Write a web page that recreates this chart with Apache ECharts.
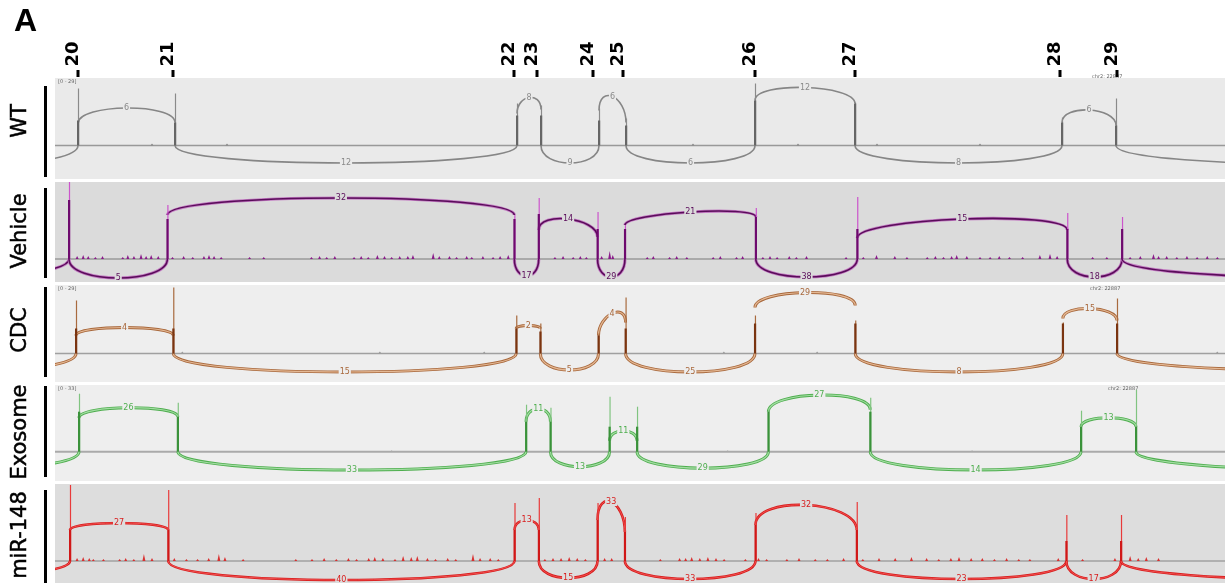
<!DOCTYPE html>
<html><head><meta charset="utf-8">
<script src="https://cdn.jsdelivr.net/npm/echarts@6/dist/echarts.min.js"></script>
<style>html,body{margin:0;padding:0;background:#fff}#c{width:1225px;height:583px}</style>
</head><body><div id="c"></div>
<script>
// ---------- DATA ----------
const exonNames = ['20','21','22','23','24','25','26','27','28','29'];
// genomic position (arbitrary units) of exons 19..30 (19 and 30 lie outside the view)
const exonPos = [-200, 23, 120, 462, 486, 544, 571, 700, 800, 1007, 1061, 1500];
const exonTickPos = [23, 118, 459, 482, 538, 568, 700, 800, 1005, 1062];
const sampleNames = ['WT', 'Vehicle', 'CDC', 'Exosome', 'miR-148'];

// coverage at each exon (20..29): spike top and dense body
const peakWT = [57, 52, 42, 40, 37, 27, 62, 43, 28, 47];
const bodyWT = [25, 23, 30, 30, 25, 20, 45, 42, 23, 20];
const peakVehicle = [80, 54, 44, 61, 47, 34, 51, 62, 46, 42];
const bodyVehicle = [59, 40, 40, 45, 30, 30, 42, 30, 30, 30];
const peakCDC = [53, 66, 38, 30, 20, 56, 38, 33, 31, 55];
const bodyCDC = [25, 25, 25, 22, 18, 25, 30, 30, 30, 30];
const peakExosome = [58, 49, 47, 44, 55, 45, 42, 54, 41, 62];
const bodyExosome = [40, 35, 30, 30, 25, 25, 40, 40, 25, 25];
const peakMiR = [76, 71, 58, 63, 58, 44, 48, 59, 46, 46];
const bodyMiR = [31, 31, 31, 31, 41, 29, 36, 31, 20, 20];

// junctions: [fromExon, toExon, reads, startHeight, apexHeight, endHeight]
const juncWT = [
  [19, 20, '', 0, -20, 0], [20, 21, 6, 22, 37.5, 23], [21, 22, 12, 0, -17.5, 0],
  [22, 23, 8, 32, 48, 36], [23, 24, 9, 0, -17.5, 0], [24, 25, 6, 35, 49, 23],
  [25, 26, 6, 0, -17.5, 0], [26, 27, 12, 45, 58, 42], [27, 28, 8, 0, -17.5, 0],
  [28, 29, 6, 23, 35.5, 20], [29, 30, '', 0, -19, 0]
];
const juncVehicle = [
  [19, 20, '', 0, -18, 0], [20, 21, 5, 0, -19, 0], [21, 22, 32, 44, 61, 44],
  [22, 23, 17, 0, -17, 0], [23, 24, 14, 29, 40, 22], [24, 25, 29, 0, -18, 0],
  [25, 26, 21, 34, 47, 42], [26, 27, 38, 0, -18, 0], [27, 28, 15, 21, 40, 29],
  [28, 29, 18, 0, -18, 0], [29, 30, '', 0, -19, 0]
];
const juncCDC = [
  [19, 20, '', 0, -18, 0], [20, 21, 4, 18, 26, 18], [21, 22, 15, 0, -18.5, 0],
  [22, 23, 2, 25, 28, 25], [23, 24, 5, 0, -16.5, 0], [24, 25, 4, 18, 40, 31],
  [25, 26, 25, 0, -18.5, 0], [26, 27, 29, 46, 61, 48], [27, 28, 8, 0, -18.5, 0],
  [28, 29, 15, 35, 45, 33], [29, 30, '', 0, -17.5, 0]
];
const juncExosome = [
  [19, 20, '', 0, -17.4, 0], [20, 21, 26, 34, 44, 35], [21, 22, 33, 0, -18.3, 0],
  [22, 23, 11, 30, 43, 30], [23, 24, 13, 0, -15, 0], [24, 25, 11, 11, 21, 11],
  [25, 26, 29, 0, -16.5, 0], [26, 27, 27, 40, 56.7, 42], [27, 28, 14, 0, -18.3, 0],
  [28, 29, 13, 25, 34, 25], [29, 30, '', 0, -18.6, 0]
];
const juncMiR = [
  [19, 20, '', 0, -15, 0], [20, 21, 27, 31, 38, 31], [21, 22, 40, 0, -19, 0],
  [22, 23, 13, 31, 41, 31], [23, 24, 15, 0, -17, 0], [24, 25, 33, 41, 59, 29],
  [25, 26, 33, 0, -18, 0], [26, 27, 32, 36, 56, 31], [27, 28, 23, 0, -18, 0],
  [28, 29, 17, 0, -18, 0], [29, 30, '', 0, -19, 0]
];

// small intronic coverage bumps: [position, height]
const bumpsWT = [[97, 2], [172, 2], [638, 2], [743, 2], [822, 2], [925, 2]];
const bumpsCDC = [[129, 2], [326, 2], [430, 2], [669, 2], [762, 2], [1161, 2]];
const bumpsExosome = [[330, 1.5], [660, 1.5], [900, 1.5]];
const bumpsVehicle = [
  [31, 3], [37, 4], [42, 3], [49, 2], [56, 3], [76, 2], [81, 4], [87, 3], [94, 5], [99, 3], [104, 4], [111, 3],
  [125, 2], [136, 3], [145, 2], [156, 3], [161, 4], [166, 3], [173, 2], [201, 2], [215, 2], [262, 2], [270, 3],
  [277, 2], [285, 3], [304, 2], [311, 3], [318, 2], [327, 4], [334, 3], [341, 2], [349, 3], [357, 3], [362, 4],
  [382, 6], [388, 3], [398, 3], [405, 2], [415, 3], [420, 2], [431, 3], [441, 2], [448, 3], [456, 4],
  [502, 2], [510, 3], [520, 2], [527, 3], [533, 2], [548, 3], [556, 8], [559, 4],
  [593, 2], [599, 3], [615, 2], [622, 3], [632, 2], [658, 2], [665, 3], [681, 2], [687, 3],
  [707, 2], [714, 3], [721, 2], [733, 3], [740, 2], [750, 3], [789, 2],
  [806, 2], [819, 4], [837, 3], [849, 2], [869, 2], [877, 3], [885, 2], [893, 3], [898, 4], [908, 3],
  [921, 2], [931, 2], [940, 3], [950, 2], [963, 2], [980, 4], [990, 5], [997, 3],
  [1032, 2], [1046, 2], [1069, 2], [1079, 3], [1092, 5], [1097, 3], [1105, 3], [1115, 2], [1125, 3],
  [1135, 2], [1145, 3], [1155, 2]
];
const bumpsMiR = [
  [30, 3], [36, 4], [42, 3], [46, 2], [56, 2], [72, 2], [78, 3], [86, 2], [96, 7], [104, 3],
  [126, 3], [138, 2], [149, 2], [160, 3], [170, 7], [176, 4], [194, 2], [246, 2], [262, 2], [274, 3],
  [286, 2], [298, 3], [306, 2], [318, 3], [324, 4], [332, 3], [344, 2], [352, 5], [360, 4], [366, 5],
  [376, 3], [384, 2], [396, 3], [404, 2], [421, 7], [428, 3], [438, 3], [446, 2],
  [492, 2], [500, 3], [508, 3], [516, 4], [524, 3], [532, 2], [551, 3], [558, 3],
  [606, 2], [625, 3], [631, 3], [637, 4], [645, 3], [653, 4], [661, 3], [669, 2], [690, 2],
  [703, 3], [711, 2], [731, 2], [743, 3], [759, 2], [771, 2], [787, 3],
  [806, 2], [822, 3], [838, 3], [854, 4], [869, 3], [881, 2], [893, 3], [901, 4], [913, 3], [924, 3],
  [936, 2], [948, 3], [960, 2], [971, 2], [999, 3], [1023, 2], [1055, 3],
  [1070, 5], [1078, 3], [1086, 4], [1098, 3]
];

// ---------- LAYOUT / STYLE ----------
const panelTop = [78, 182, 285, 385, 484];
const panelBottom = [179, 282, 382, 481, 583];
const panelBase = [145.5, 259, 353.5, 451.7, 561];
const panelXRange = [[0, 1170], [9.2, 1162.5], [2.06, 1168.7], [-0.57, 1148.4], [8.19, 1163.7]];
const styles = [
  {bg: '#eaeaea', arc: '#868686', arcW: 1.6, inner: null, label: '#8a8a8a', line: '#8a8a8a', body: '#666666', bump: '#888', base: '#999999'},
  {bg: '#dbdbdb', arc: '#c27ac2', arcW: 3.2, inner: '#5a0c5a', innerW: 1.6, label: '#5a0c5a', line: '#cc55cc', body: '#6e0a6e', bump: '#8a1a8a', base: '#9a9a9a'},
  {bg: '#eeeeee', arc: '#a8683c', arcW: 3, inner: '#e4b894', innerW: 1.2, label: '#a8683c', line: '#a86a3e', body: '#7a3410', bump: '#999', base: '#a0a0a0'},
  {bg: '#eeeeee', arc: '#4fae4f', arcW: 3, inner: '#a2dca2', innerW: 1.2, label: '#4fae4f', line: '#80c480', body: '#3a923a', bump: '#aaa', base: '#aaaaaa'},
  {bg: '#dddddd', arc: '#d81c1c', arcW: 2.6, inner: '#f05050', innerW: 1, label: '#d81c1c', line: '#e83a3a', body: '#d01818', bump: '#d83030', base: '#a0a0a0'}
];
const panelData = [
  {peak: peakWT, body: bodyWT, junc: juncWT, bumps: bumpsWT},
  {peak: peakVehicle, body: bodyVehicle, junc: juncVehicle, bumps: bumpsVehicle},
  {peak: peakCDC, body: bodyCDC, junc: juncCDC, bumps: bumpsCDC},
  {peak: peakExosome, body: bodyExosome, junc: juncExosome, bumps: bumpsExosome},
  {peak: peakMiR, body: bodyMiR, junc: juncMiR, bumps: bumpsMiR}
];
const FONT = '"DejaVu Sans", sans-serif';

const grids = [], xAxes = [], yAxes = [], series = [];

panelData.forEach((pd, p) => {
  const st = styles[p];
  grids.push({left: 55, right: 0, top: panelTop[p], height: panelBottom[p] - panelTop[p],
    show: true, backgroundColor: st.bg, borderWidth: 0});
  xAxes.push({type: 'value', gridIndex: p, min: panelXRange[p][0], max: panelXRange[p][1], show: false});
  yAxes.push({type: 'value', gridIndex: p, min: -(panelBottom[p] - panelBase[p]), max: panelBase[p] - panelTop[p], show: false});

  // baseline
  series.push({type: 'line', xAxisIndex: p, yAxisIndex: p, symbol: 'none', silent: true, z: 1,
    data: [[panelXRange[p][0], 0], [panelXRange[p][1], 0]],
    lineStyle: {color: st.base, width: p === 3 ? 2 : 1.3}});

  // bumps
  series.push({type: 'custom', xAxisIndex: p, yAxisIndex: p, clip: true, silent: true, z: 2,
    data: pd.bumps,
    renderItem: (params, api) => {
      const b = pd.bumps[params.dataIndex];
      const a = api.coord([b[0], 0]), t = api.coord([b[0], b[1]]);
      return {type: 'polygon', shape: {points: [[a[0] - 1.5, a[1]], [a[0], t[1]], [a[0] + 1.5, a[1]]]},
        style: {fill: st.bump}};
    }});

  // junction arcs
  series.push({type: 'custom', xAxisIndex: p, yAxisIndex: p, clip: true, silent: true, z: 3,
    data: pd.junc.map(j => [exonPos[j[0] - 19], j[4]]),
    renderItem: (params, api) => {
      const j = pd.junc[params.dataIndex];
      const xa = exonPos[j[0] - 19], xb = exonPos[j[1] - 19];
      const y0 = j[3], ye = j[4], y3 = j[5];
      const d = (ye - (y0 + y3) / 2) / 0.75;
      const P0 = api.coord([xa, y0]), P1 = api.coord([xa, y0 + d]);
      const P2 = api.coord([xb, y3 + d]), P3 = api.coord([xb, y3]);
      const shape = {x1: P0[0], y1: P0[1], cpx1: P1[0], cpy1: P1[1], cpx2: P2[0], cpy2: P2[1], x2: P3[0], y2: P3[1]};
      const ch = [{type: 'bezierCurve', shape, style: {stroke: st.arc, lineWidth: st.arcW, fill: 'none'}}];
      if (st.inner) ch.push({type: 'bezierCurve', shape, style: {stroke: st.inner, lineWidth: st.innerW, fill: 'none'}});
      if (j[2] !== '') {
        const M = api.coord([(xa + xb) / 2, ye]);
        ch.push({type: 'text', x: M[0], y: M[1], z2: 10, style: {text: String(j[2]), font: '8px ' + FONT,
          fill: st.label, align: 'center', verticalAlign: 'middle', backgroundColor: st.bg, padding: [0, 1]}});
      }
      return {type: 'group', children: ch};
    }});

  // exon coverage spikes
  series.push({type: 'custom', xAxisIndex: p, yAxisIndex: p, clip: true, silent: true, z: 4,
    data: pd.peak.map((v, i) => [exonPos[i + 1], v]),
    renderItem: (params, api) => {
      const i = params.dataIndex, x = exonPos[i + 1];
      const b = api.coord([x, 0]), t = api.coord([x, pd.peak[i]]), m = api.coord([x, pd.body[i]]);
      return {type: 'group', children: [
        {type: 'line', shape: {x1: b[0] + 0.5, y1: b[1], x2: b[0] + 0.5, y2: t[1]}, style: {stroke: st.line, lineWidth: 1.2}},
        {type: 'rect', shape: {x: b[0] - 1, y: m[1], width: 2.2, height: b[1] - m[1]}, style: {fill: st.body}}
      ]};
    }});
});

// exon number ticks above the first panel
series.push({type: 'custom', xAxisIndex: 0, yAxisIndex: 0, clip: false, silent: true, z: 5,
  data: exonTickPos.map(v => [v, 0]),
  renderItem: (params, api) => {
    const x = api.coord([exonTickPos[params.dataIndex], 0])[0];
    return {type: 'group', children: [
      {type: 'rect', shape: {x: x - 1.5, y: 70, width: 3, height: 7}, style: {fill: '#000'}},
      {type: 'text', x: x - 5, y: 54, rotation: Math.PI / 2, style: {text: exonNames[params.dataIndex],
        font: 'bold 18px ' + FONT, fill: '#000', align: 'center', verticalAlign: 'middle'}}
    ]};
  }});

const labelY = [121, 231, 330, 432, 535];
const barSpan = [[86, 177], [188, 278], [287, 377], [386, 477], [490, 583]];
const graphics = [{type: 'text', x: 14, y: 22, style: {text: 'A', font: 'bold 32px "Liberation Sans", Arial, sans-serif',
  fill: '#000', align: 'left', verticalAlign: 'middle'}}];
sampleNames.forEach((n, p) => {
  graphics.push({type: 'text', x: 21, y: labelY[p], rotation: Math.PI / 2,
    style: {text: n, font: '21px ' + FONT, fill: '#000', align: 'center', verticalAlign: 'middle',
      stroke: '#000', lineWidth: 0.5}});
  graphics.push({type: 'rect', shape: {x: 44, y: barSpan[p][0], width: 3, height: barSpan[p][1] - barSpan[p][0]},
    style: {fill: '#000'}});
});
const rangeTexts = [['[0 - 29]', 58, 82], ['[0 - 29]', 58, 289], ['[0 - 33]', 58, 389], ['chr2: 22887', 1092, 77],
  ['chr2: 22887', 1090, 289], ['chr2: 22887', 1108, 389]];
rangeTexts.forEach(t => graphics.push({type: 'text', x: t[1], y: t[2],
  style: {text: t[0], font: '5px ' + FONT, fill: '#666', align: 'left', verticalAlign: 'middle'}}));

const chart = echarts.init(document.getElementById('c'), null, {renderer: 'canvas'});
chart.setOption({animation: false, grid: grids, xAxis: xAxes, yAxis: yAxes, series, graphic: graphics});
</script></body></html>
